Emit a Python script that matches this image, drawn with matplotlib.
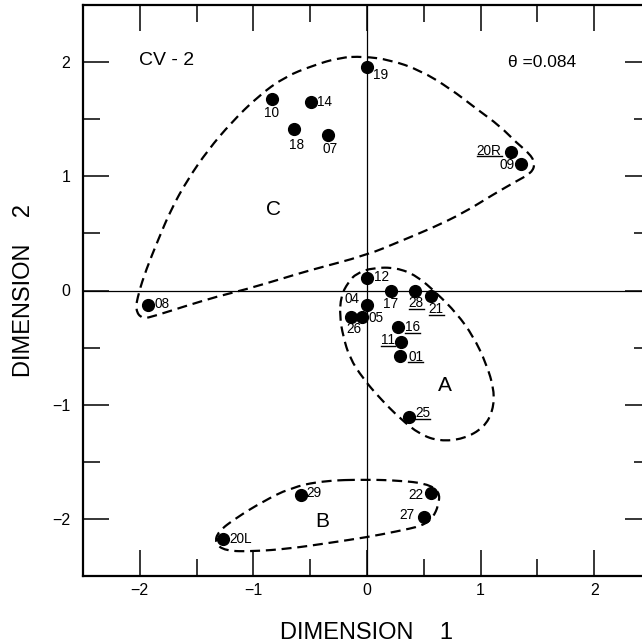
'''

 CV-2 two-dimensional scaling solution with clusters A, B and C.

'''

import numpy as np
import matplotlib.pyplot as plt
from matplotlib.path import Path
from matplotlib.patches import PathPatch
from matplotlib.ticker import MultipleLocator


# Point scores

labels = ['19', '10', '14', '18', '07', '20R', '09', '08', '12', '17', '28', '21',
          '04', '05', '26', '16', '11', '01', '25', '29', '22', '27', '20L']
dim1 = [0.0, -0.84, -0.49, -0.64, -0.34, 1.27, 1.36, -1.93, 0.0, 0.21, 0.42, 0.56,
        0.0, -0.04, -0.14, 0.27, 0.30, 0.29, 0.37, -0.58, 0.56, 0.50, -1.27]
dim2 = [1.96, 1.68, 1.65, 1.41, 1.36, 1.21, 1.11, -0.13, 0.11, 0.0, 0.0, -0.05,
        -0.13, -0.23, -0.23, -0.32, -0.45, -0.57, -1.11, -1.79, -1.77, -1.98, -2.18]
underlined = ['20R', '28', '21', '16', '11', '01', '25']

# Cluster outlines (dashed)

c_x = [-0.035, 0.2, 0.465, 0.73, 0.965, 1.17, 1.32, 1.43, 1.48, 1.45, 1.32, 1.11,
       0.85, 0.58, 0.29, 0.0, -0.53, -0.726, -1.08, -1.31, -1.61, -1.86, -1.98,
       -2.04, -2.01, -1.945, -1.84, -1.725, -1.58, -1.40, -1.195, -0.96, -0.726,
       -0.476, -0.24]
c_y = [2.05, 2.02, 1.93, 1.77, 1.59, 1.44, 1.29, 1.20, 1.115, 1.03, 0.96, 0.84,
       0.68, 0.55, 0.43, 0.31, 0.17, 0.11, 0.006, -0.05, -0.14, -0.22, -0.25,
       -0.17, -0.02, 0.18, 0.44, 0.71, 0.97, 1.23, 1.47, 1.70, 1.87, 1.97, 2.04]

a_x = [-0.23, -0.167, -0.094, 0.053, 0.26, 0.436, 0.61, 0.79, 0.935, 1.05, 1.12,
       1.11, 1.03, 0.85, 0.64, 0.465, 0.29, 0.11, -0.035, -0.153, -0.21, -0.24]
a_y = [-0.05, 0.07, 0.15, 0.20, 0.20, 0.13, -0.02, -0.20, -0.40, -0.64, -0.87,
       -1.05, -1.20, -1.30, -1.32, -1.26, -1.12, -0.94, -0.77, -0.59, -0.40, -0.23]

b_x = [0.0, 0.29, 0.52, 0.64, 0.63, 0.58, 0.49, 0.26, 0.0, -0.33, -0.68, -1.005,
       -1.25, -1.34, -1.31, -1.15, -0.92, -0.68, -0.39]
b_y = [-1.655, -1.665, -1.69, -1.76, -1.88, -1.99, -2.06, -2.11, -2.16, -2.21, -2.26,
       -2.285, -2.28, -2.21, -2.11, -1.99, -1.85, -1.73, -1.665]

clusters = ['A', 'B', 'C']
cluster_x = [0.685, -0.39, -0.82]
cluster_y = [-0.83, -2.02, 0.71]

ticks = [-2, -1, 0, 1, 2]


# label placement: offset in points and horizontal alignment

place = {
	'19': (4, -6, 'left'), '10': (0, -10, 'center'), '14': (4, 0, 'left'),
	'18': (1.5, -11, 'center'), '07': (1, -10, 'center'), '20R': (-7, 1, 'right'),
	'09': (-5, -1, 'right'), '08': (5, 1, 'left'), '12': (5, 1, 'left'),
	'17': (0, -9.5, 'center'), '28': (1, -9, 'center'), '21': (4, -9.5, 'center'),
	'04': (-11, 4.5, 'center'), '05': (4.5, -0.7, 'left'), '26': (2, -9, 'center'),
	'16': (5, 0, 'left'), '11': (-4.5, 1.2, 'right'), '01': (6, -1, 'left'),
	'25': (4.5, 3, 'left'), '29': (3.5, 1.2, 'left'), '22': (-5, -1.5, 'right'),
	'27': (-6.5, 1.2, 'right'), '20L': (4.5, 0, 'left'),
}


def smooth_outline(xs, ys):

	# closed quadratic bezier: outline points act as control points

	p = np.column_stack([xs, ys])
	mid = (p + np.roll(p, -1, axis=0)) / 2
	verts = [mid[-1]]
	codes = [Path.MOVETO]
	for i in range(len(p)):
		verts += [p[i], mid[i]]
		codes += [Path.CURVE3, Path.CURVE3]
	return Path(verts, codes)


plt.rcParams['font.family'] = 'Liberation Sans'

fig = plt.figure(figsize=(6.42, 6.44), dpi=100)
ax = fig.add_axes([83/642, 68/644, 568/642, 571/644])

ax.set_xlim(-2.5, 2.5)
ax.set_ylim(-2.5, 2.5)

ax.axhline(0, color='black', lw=0.9, zorder=1)
ax.axvline(0, color='black', lw=0.9, zorder=1)

# dashed outlines

dash = (0, (4.5, 2.6))
for xs, ys in [(c_x, c_y), (a_x, a_y), (b_x, b_y)]:
	ax.add_patch(PathPatch(smooth_outline(xs, ys), fill=False, edgecolor='black',
	                       lw=1.6, linestyle=dash, zorder=2))

ax.scatter(dim1, dim2, s=72, color='black', zorder=3)

texts = []
for lab, x, y in zip(labels, dim1, dim2):
	dx, dy, ha = place[lab]
	t = ax.annotate(lab, (x, y), xytext=(dx, dy), textcoords='offset points',
	                ha=ha, va='center', fontsize=9.8, zorder=4)
	if lab in underlined:
		texts.append(t)

for lab, x, y in zip(clusters, cluster_x, cluster_y):
	ax.text(x, y, lab, ha='center', va='center', fontsize=15)

ax.text(-2.01, 2.01, 'CV - 2', ha='left', va='center', fontsize=14)
ax.text(1.24, 2.0, 'θ =0.084', ha='left', va='center', fontsize=12.5)

# ticks

ax.set_xticks(ticks)
ax.set_yticks(ticks)
ax.set_xticklabels([str(t).replace('-', '\u2212') for t in ticks])
ax.set_yticklabels([str(t).replace('-', '\u2212') for t in ticks])
ax.xaxis.set_minor_locator(MultipleLocator(0.5))
ax.yaxis.set_minor_locator(MultipleLocator(0.5))
ax.tick_params(which='both', direction='in', top=True, right=True, width=1.1,
               labelsize=11.5)
ax.tick_params(which='major', length=19)
ax.tick_params(which='minor', length=12)
ax.tick_params(axis='x', pad=5)
ax.tick_params(axis='y', pad=9)

for sp in ax.spines.values():
	sp.set_linewidth(1.6)

ax.set_xlabel('DIMENSION    1', fontsize=17)
ax.set_ylabel('DIMENSION    2', fontsize=17)
ax.xaxis.set_label_coords(0.5, -0.081)
ax.yaxis.set_label_coords(-0.085, 0.5)

# underline the marked labels

fig.canvas.draw()
renderer = fig.canvas.get_renderer()
inv = fig.transFigure.inverted()
for t in texts:
	bb = t.get_window_extent(renderer)
	(x0, y0), (x1, _) = inv.transform([(bb.x0, bb.y0 + 1.5), (bb.x1, bb.y0)])
	fig.add_artist(plt.Line2D([x0, x1], [y0, y0], color='black', lw=1.0))

plt.savefig('out.png', dpi=100)
